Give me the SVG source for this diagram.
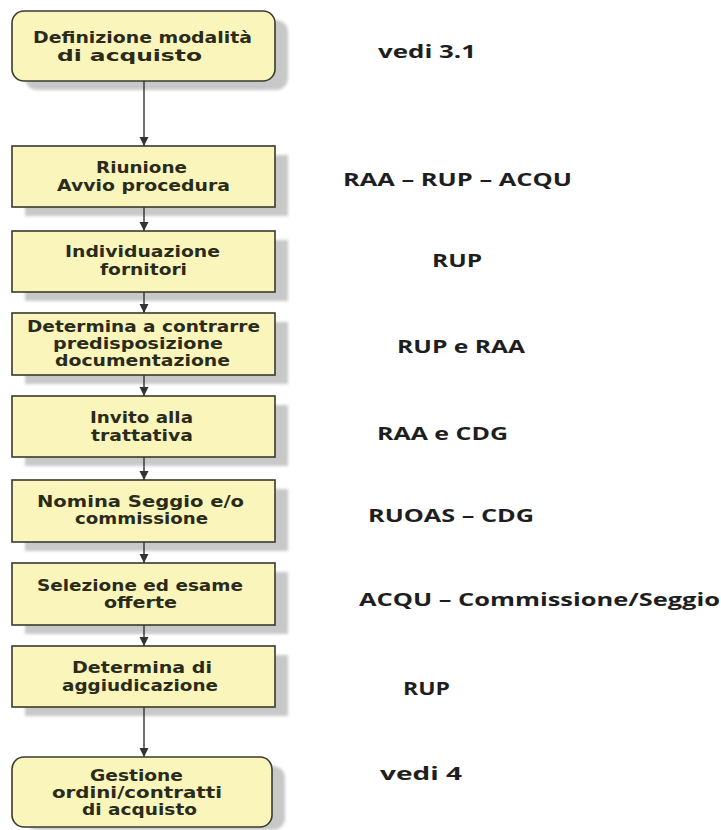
<svg xmlns="http://www.w3.org/2000/svg" width="721" height="830" viewBox="0 0 721 830">
<style>
.shadow{fill:#c8c8c8}
.box{fill:#faf6bb;stroke:#3a3a30;stroke-width:1.6}
.bt{font-family:"DejaVu Sans",Verdana,sans-serif;font-weight:bold;font-size:15.5px;fill:#2b2b1c;text-anchor:middle}
.lt{font-family:"Open Sans","DejaVu Sans",sans-serif;font-weight:bold;font-size:17.5px;fill:#1e1e1e}
.conn{stroke:#333;stroke-width:1.4;fill:none}
</style>
<defs>
<filter id="blur" x="-10%" y="-10%" width="120%" height="120%"><feGaussianBlur stdDeviation="1.5"/></filter>
<marker id="ah" markerWidth="10" markerHeight="10" refX="9" refY="5" orient="auto" markerUnits="userSpaceOnUse">
<path d="M0,0.5 L9,5 L0,9.5 Z" fill="#333"/>
</marker>
</defs>
<rect width="721" height="830" fill="#ffffff"/>
<g id="shadows" filter="url(#blur)">
<rect class="shadow" x="25" y="20" width="263" height="70" rx="12"/>
<rect class="shadow" x="25" y="155" width="263" height="61"/>
<rect class="shadow" x="25" y="240" width="263" height="61"/>
<rect class="shadow" x="25" y="322" width="263" height="62"/>
<rect class="shadow" x="25" y="405" width="263" height="61"/>
<rect class="shadow" x="25" y="489" width="263" height="62"/>
<rect class="shadow" x="25" y="572" width="263" height="62"/>
<rect class="shadow" x="25" y="655" width="263" height="61"/>
<rect class="shadow" x="25" y="766" width="260" height="64" rx="12"/>
</g>
<g id="connectors">
<line class="conn" x1="144" y1="81" x2="144" y2="146" marker-end="url(#ah)"/>
<line class="conn" x1="144" y1="207" x2="144" y2="231" marker-end="url(#ah)"/>
<line class="conn" x1="144" y1="292" x2="144" y2="313" marker-end="url(#ah)"/>
<line class="conn" x1="144" y1="375" x2="144" y2="396" marker-end="url(#ah)"/>
<line class="conn" x1="144" y1="457" x2="144" y2="480" marker-end="url(#ah)"/>
<line class="conn" x1="144" y1="542" x2="144" y2="563" marker-end="url(#ah)"/>
<line class="conn" x1="144" y1="625" x2="144" y2="646" marker-end="url(#ah)"/>
<line class="conn" x1="144" y1="707" x2="144" y2="757" marker-end="url(#ah)"/>
</g>
<g id="n1">
<rect class="box" x="12" y="11" width="263" height="70" rx="12"/>
<text class="bt" x="142.5" y="43" textLength="219" lengthAdjust="spacingAndGlyphs">Definizione modalità</text>
<text class="bt" x="129.5" y="61" textLength="145" lengthAdjust="spacingAndGlyphs">di acquisto</text>
</g>
<g id="n2">
<rect class="box" x="12" y="146" width="263" height="61"/>
<text class="bt" x="141.5" y="173" textLength="91" lengthAdjust="spacingAndGlyphs">Riunione</text>
<text class="bt" x="143.5" y="191" textLength="173" lengthAdjust="spacingAndGlyphs">Avvio procedura</text>
</g>
<g id="n3">
<rect class="box" x="12" y="231" width="263" height="61"/>
<text class="bt" x="142.5" y="257" textLength="155" lengthAdjust="spacingAndGlyphs">Individuazione</text>
<text class="bt" x="143.5" y="275" textLength="87" lengthAdjust="spacingAndGlyphs">fornitori</text>
</g>
<g id="n4">
<rect class="box" x="12" y="313" width="263" height="62"/>
<text class="bt" x="143.5" y="332" textLength="233" lengthAdjust="spacingAndGlyphs">Determina  a contrarre</text>
<text class="bt" x="138" y="349" textLength="170" lengthAdjust="spacingAndGlyphs">predisposizione</text>
<text class="bt" x="142.5" y="366" textLength="175" lengthAdjust="spacingAndGlyphs">documentazione</text>
</g>
<g id="n5">
<rect class="box" x="12" y="396" width="263" height="61"/>
<text class="bt" x="141.5" y="423" textLength="103" lengthAdjust="spacingAndGlyphs">Invito alla</text>
<text class="bt" x="142" y="441" textLength="102" lengthAdjust="spacingAndGlyphs">trattativa</text>
</g>
<g id="n6">
<rect class="box" x="12" y="480" width="263" height="62"/>
<text class="bt" x="140.5" y="507" textLength="207" lengthAdjust="spacingAndGlyphs">Nomina  Seggio e/o</text>
<text class="bt" x="141.5" y="524" textLength="133" lengthAdjust="spacingAndGlyphs">commissione</text>
</g>
<g id="n7">
<rect class="box" x="12" y="563" width="263" height="62"/>
<text class="bt" x="140" y="591" textLength="206" lengthAdjust="spacingAndGlyphs">Selezione ed esame</text>
<text class="bt" x="140.5" y="608" textLength="73" lengthAdjust="spacingAndGlyphs">offerte</text>
</g>
<g id="n8">
<rect class="box" x="12" y="646" width="263" height="61"/>
<text class="bt" x="142" y="673" textLength="140" lengthAdjust="spacingAndGlyphs">Determina di</text>
<text class="bt" x="140" y="691" textLength="156" lengthAdjust="spacingAndGlyphs">aggiudicazione</text>
</g>
<g id="n9">
<rect class="box" x="12" y="757" width="260" height="70" rx="12"/>
<text class="bt" x="136.5" y="781" textLength="93" lengthAdjust="spacingAndGlyphs">Gestione</text>
<text class="bt" x="137" y="798" textLength="170" lengthAdjust="spacingAndGlyphs">ordini/contratti</text>
<text class="bt" x="139.5" y="815" textLength="115" lengthAdjust="spacingAndGlyphs">di acquisto</text>
</g>
<g id="labels">
<text class="lt" x="378" y="58" textLength="98" lengthAdjust="spacingAndGlyphs">vedi 3.1</text>
<text class="lt" x="343" y="186" textLength="229" lengthAdjust="spacingAndGlyphs">RAA – RUP – ACQU</text>
<text class="lt" x="432" y="267" textLength="50" lengthAdjust="spacingAndGlyphs">RUP</text>
<text class="lt" x="397" y="353" textLength="128" lengthAdjust="spacingAndGlyphs">RUP e RAA</text>
<text class="lt" x="377" y="440" textLength="131" lengthAdjust="spacingAndGlyphs">RAA e CDG</text>
<text class="lt" x="368" y="522" textLength="166" lengthAdjust="spacingAndGlyphs">RUOAS – CDG</text>
<text class="lt" x="359" y="606" textLength="361" lengthAdjust="spacingAndGlyphs">ACQU – Commissione/Seggio</text>
<text class="lt" x="403" y="695" textLength="47" lengthAdjust="spacingAndGlyphs">RUP</text>
<text class="lt" x="380" y="780" textLength="82" lengthAdjust="spacingAndGlyphs">vedi 4</text>
</g>
</svg>
